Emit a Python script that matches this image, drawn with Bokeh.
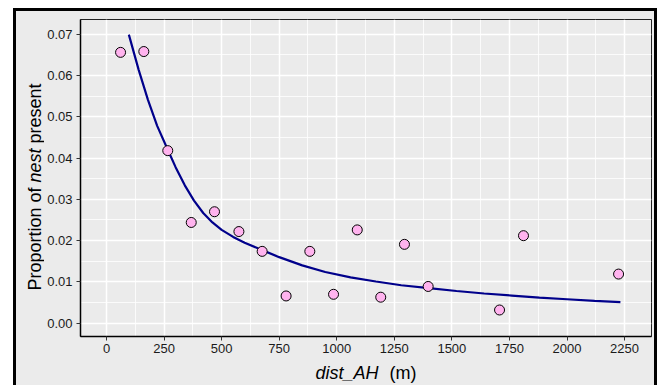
from bokeh.plotting import figure
from bokeh.models import Range1d, FixedTicker
from bokeh.layouts import row, column
from bokeh.core.properties import value
from bokeh.embed import file_html
from bokeh.resources import INLINE
import math

# observed points
dist = [61, 162, 266, 368, 469, 575, 676, 780, 883, 986, 1089, 1191, 1294, 1397, 1707, 1811, 2224]
prop = [0.0656, 0.0658, 0.0418, 0.0244, 0.0270, 0.0222, 0.0174, 0.0066, 0.0174, 0.0070,
        0.0226, 0.0063, 0.0191, 0.0089, 0.0032, 0.0212, 0.0119]

# fitted curve
fit_x = [97, 140, 180, 220, 266, 300, 340, 380, 420, 460, 500, 550, 600, 676, 750, 850,
         950, 1060, 1170, 1280, 1400, 1520, 1640, 1760, 1880, 2000, 2120, 2232]
fit_y = [0.0699, 0.0613, 0.0541, 0.0478, 0.0420, 0.0378, 0.0334, 0.0297, 0.0267, 0.0244,
         0.0226, 0.0209, 0.0195, 0.0177, 0.0160, 0.0140, 0.0124, 0.0111, 0.0101, 0.0092,
         0.0085, 0.0078, 0.0072, 0.0067, 0.0062, 0.0058, 0.0054, 0.0051]

x_ticks = [0, 250, 500, 750, 1000, 1250, 1500, 1750, 2000, 2250]
x_tick_labels = ["0", "250", "500", "750", "1000", "1250", "1500", "1750", "2000", "2250"]
x_minor = [125, 375, 625, 875, 1125, 1375, 1625, 1875, 2125]
y_ticks = [0.0, 0.01, 0.02, 0.03, 0.04, 0.05, 0.06, 0.07]
y_tick_labels = ["0.00", "0.01", "0.02", "0.03", "0.04", "0.05", "0.06", "0.07"]
y_minor = [0.005, 0.015, 0.025, 0.035, 0.045, 0.055, 0.065]

x_title = ["dist_AH", "(m)"]
y_title = ["Proportion of", "nest", "present"]

FONT = "Liberation Sans"
BG = "#EBEBEB"

# ---- main panel ----
p = figure(width=610, height=347, output_backend="svg", toolbar_location=None,
           x_range=Range1d(-113, 2367), y_range=Range1d(-0.00322, 0.07356),
           min_border_left=36, min_border_right=3, min_border_top=8, min_border_bottom=22,
           background_fill_color=BG, border_fill_color=BG,
           outline_line_color="#222222", outline_line_width=1)

p.xaxis.ticker = FixedTicker(ticks=x_ticks, minor_ticks=x_minor)
p.yaxis.ticker = FixedTicker(ticks=y_ticks, minor_ticks=y_minor)
p.xaxis.major_label_overrides = {t: s for t, s in zip(x_ticks, x_tick_labels)}
p.yaxis.major_label_overrides = {t: s for t, s in zip(y_ticks, y_tick_labels)}

for ax in (p.xaxis[0], p.yaxis[0]):
    ax.axis_line_color = "black"
    ax.axis_line_width = 1.5
    ax.major_tick_line_color = "#333333"
    ax.major_tick_out = 4
    ax.major_tick_in = 0
    ax.minor_tick_line_color = None
    ax.major_label_text_font = FONT
    ax.major_label_text_font_size = "13px"
    ax.major_label_text_color = "#1a1a1a"
p.xaxis.major_label_standoff = 3
p.yaxis.major_label_standoff = 4

for g in (p.xgrid[0], p.ygrid[0]):
    g.grid_line_color = "white"
    g.grid_line_width = 1.5
    g.minor_grid_line_color = "white"
    g.minor_grid_line_width = 0.8

p.line(fit_x, fit_y, line_color="#00008B", line_width=2.2)
p.scatter(dist, prop, size=10, fill_color="#FFB3EE", line_color="black", line_width=1)


def blank(width, height, x_range):
    f = figure(width=width, height=height, output_backend="svg", toolbar_location=None,
               title=None, x_range=x_range, y_range=Range1d(0, height),
               x_axis_type=None, y_axis_type=None,
               min_border_left=0, min_border_right=0, min_border_top=0, min_border_bottom=0,
               background_fill_color=BG, border_fill_color=BG, outline_line_color=None)
    f.grid.visible = False
    return f


# ---- y-axis title (rotated, mixed italic) ----
left = blank(28, 374, Range1d(0, 28))
left.text(x=[18, 18, 18], y=[95, 203, 242], text=y_title, angle=math.pi / 2,
          text_font=value(FONT), text_font_size="18px", text_color="black",
          text_align="left", text_baseline="alphabetic",
          text_font_style=["normal", "italic", "normal"])

# ---- x-axis title (shares the panel's x scale) ----
bottom = blank(610, 27, p.x_range)
bottom.text(x=[907.7, 1229], y=[12.3, 12.3], text=x_title,
            text_font=value(FONT), text_font_size="18px", text_color="black",
            text_align="left", text_baseline="alphabetic",
            text_font_style=["italic", "normal"])

layout = row(left, column(p, bottom, spacing=0), spacing=0)
layout.styles = {"margin-left": "13px", "margin-top": "8px", "background-color": BG,
                 "border-left": "3px solid black", "border-top": "3px solid black",
                 "border-right": "3px solid black"}

open("out.html", "w").write(file_html(layout, INLINE))
